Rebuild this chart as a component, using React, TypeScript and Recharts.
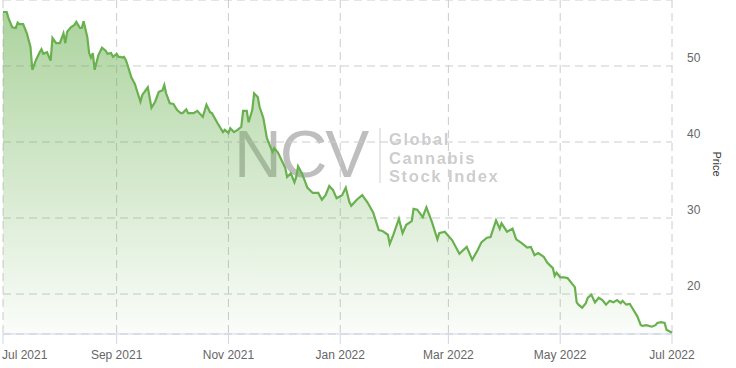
import { Area, AreaChart, CartesianGrid, Label, XAxis, YAxis } from "recharts";

// days since 1 Jul 2021
const dayOffsets = [
	0, 2, 3, 5, 7, 8, 9, 11, 13, 15, 16, 18, 20, 21, 22, 24, 26, 27, 29, 31, 33, 34, 35, 37, 39, 40, 42, 43, 44, 46, 47, 48,
	49, 50, 52, 54, 56, 57, 59, 60, 62, 63, 64, 65, 66, 67, 68, 70, 72, 73, 75, 76, 79, 81, 83, 85, 87, 88, 89, 91, 93, 95,
	97, 98, 100, 101, 104, 106, 109, 111, 113, 114, 117, 120, 121, 123, 124, 126, 128, 130, 131, 133, 134, 136, 137, 139,
	140, 142, 144, 146, 147, 148, 150, 152, 154, 155, 157, 159, 160, 161, 163, 165, 166, 169, 172, 174, 176, 178, 180, 182,
	185, 187, 189, 190, 193, 196, 199, 202, 205, 207, 210, 211, 213, 216, 218, 220, 223, 224, 226, 229, 231, 234, 237, 238,
	241, 245, 249, 253, 256, 259, 261, 264, 266, 269, 271, 272, 275, 278, 280, 283, 286, 288, 290, 292, 295, 297, 300, 301,
	302, 304, 306, 308, 311, 312, 313, 314, 316, 318, 319, 321, 323, 325, 327, 329, 331, 333, 335, 337, 338, 340, 342, 344,
	346, 348, 349, 351, 354, 356, 357, 359, 361, 362, 365,
];

const prices = [
	57.1, 57.1, 56.3, 55.1, 55.0, 55.7, 55.5, 55.5, 54.3, 52.5, 49.5, 50.8, 51.8, 52.2, 51.6, 51.8, 50.7, 53.7, 53.0, 53.0,
	54.3, 53.0, 54.5, 55.1, 55.4, 55.8, 55.0, 55.0, 55.9, 53.8, 51.7, 51.1, 51.7, 49.5, 51.4, 52.4, 52.0, 51.6, 51.7, 51.2,
	51.6, 51.2, 51.2, 51.1, 51.2, 50.8, 50.1, 48.5, 47.6, 46.8, 45.3, 46.2, 47.2, 44.5, 45.3, 46.6, 46.8, 47.5, 46.4, 45.1,
	45.0, 44.2, 43.8, 43.8, 44.3, 43.8, 43.8, 44.1, 43.3, 44.9, 43.9, 43.8, 42.5, 41.3, 41.6, 41.2, 41.8, 41.3, 41.6, 42.0,
	44.1, 44.1, 42.6, 44.2, 46.4, 45.9, 44.6, 43.2, 40.5, 39.3, 38.7, 39.2, 38.6, 37.6, 36.6, 35.4, 35.9, 34.7, 35.4, 36.8,
	35.9, 34.7, 34.0, 33.3, 33.3, 32.4, 33.0, 34.2, 33.7, 32.6, 33.0, 34.0, 32.1, 31.6, 32.4, 33.0, 32.0, 30.7, 28.4, 28.3,
	27.8, 26.6, 27.8, 29.9, 28.0, 29.1, 29.6, 31.2, 31.1, 30.1, 31.4, 29.5, 27.2, 28.0, 28.2, 27.1, 25.3, 26.2, 24.5, 25.8,
	26.8, 27.4, 27.5, 29.7, 28.6, 29.3, 28.2, 28.6, 27.2, 26.7, 26.1, 26.2, 25.1, 25.4, 24.9, 24.1, 23.4, 22.4, 22.8, 22.2,
	22.2, 22.1, 21.2, 20.9, 18.9, 18.6, 18.2, 18.8, 19.5, 19.9, 18.9, 19.5, 19.2, 18.6, 19.1, 18.9, 19.2, 18.8, 19.1, 18.6,
	18.7, 17.9, 17.1, 15.9, 15.8, 15.9, 15.7, 15.9, 16.2, 16.3, 16.2, 15.3, 14.9,
];

const monthTicks = [0, 62, 123, 184, 243, 304, 365];
const monthLabels = ["Jul 2021", "Sep 2021", "Nov 2021", "Jan 2022", "Mar 2022", "May 2022", "Jul 2022"];
const priceTicks = [20, 30, 40, 50];

const data = dayOffsets.map((day, i) => ({ day, price: prices[i] }));

const FONT = "'Liberation Sans', Arial, sans-serif";
const GREEN = "#69b04f";

function MonthTick({ x, y, payload, index }: any) {
	const first = index === 0;
	return (
		<text
			x={first ? x - 1 : x}
			y={y}
			dy={13}
			textAnchor={first ? "start" : "middle"}
			fill="#666666"
			fontSize={12}
			fontFamily={FONT}
		>
			{monthLabels[monthTicks.indexOf(payload.value)]}
		</text>
	);
}

function PriceTick({ x, y, payload }: any) {
	return (
		<text x={x} y={y - 8} dy="0.35em" textAnchor="start" fill="#666666" fontSize={12} fontFamily={FONT}>
			{payload.value}
		</text>
	);
}

function PriceLabel({ viewBox }: any) {
	const cx = viewBox.x + 45;
	const cy = viewBox.y + viewBox.height / 2 - 3;
	return (
		<text
			transform={`translate(${cx},${cy}) rotate(90)`}
			textAnchor="middle"
			dy="0.35em"
			fill="#333333"
			fontSize={11}
			fontFamily={FONT}
		>
			Price
		</text>
	);
}

const brandLines = ["Global", "Cannabis", "Stock Index"];

function Watermark() {
	return (
		<svg width={736} height={368} style={{ position: "absolute", left: 0, top: 0 }}>
			<text x={234} y={177} fontSize={66} letterSpacing={-2} fontFamily={FONT} fill="rgba(70,70,70,0.35)">
				NCV
			</text>
			<line x1={380} x2={380} y1={128} y2={183} stroke="#d0d0d0" strokeWidth={1} />
			<g fontSize={16.5} letterSpacing={1.6} fontWeight="bold" fontFamily={FONT} fill="rgba(80,80,80,0.3)">
				{brandLines.map((line, i) => (
					<text key={line} x={389} y={145 + i * 18.6}>
						{line}
					</text>
				))}
			</g>
		</svg>
	);
}

export default function App() {
	return (
		<div style={{ position: "absolute", left: 0, top: 0, width: 736, height: 368, background: "#fff" }}>
			<Watermark />
			<div style={{ position: "absolute", left: 0, top: 0 }}>
				<AreaChart width={736} height={368} data={data} margin={{ top: 0, right: 0, bottom: 0, left: 3 }}>
					<defs>
						<linearGradient id="priceFill" x1="0" y1="0" x2="0" y2="1">
							<stop offset="0%" stopColor={GREEN} stopOpacity={0.92} />
							<stop offset="100%" stopColor={GREEN} stopOpacity={0.05} />
						</linearGradient>
					</defs>
					<CartesianGrid stroke="#cccccc" strokeDasharray="8 5" />
					<XAxis
						dataKey="day"
						type="number"
						domain={[0, 365]}
						ticks={monthTicks}
						interval={0}
						height={34}
						stroke="#ccd6eb"
						tickLine={{ stroke: "#ccd6eb" }}
						tickSize={10}
						tickMargin={2}
						tick={<MonthTick />}
					/>
					<YAxis
						orientation="right"
						type="number"
						domain={[14.74, 58.68]}
						ticks={priceTicks}
						width={64}
						axisLine={false}
						tickLine={false}
						tickSize={0}
						tickMargin={15}
						tick={<PriceTick />}
					>
						<Label content={<PriceLabel />} />
					</YAxis>
					<Area
						type="linear"
						dataKey="price"
						stroke={GREEN}
						strokeWidth={2.2}
						fill="url(#priceFill)"
						baseValue="dataMin"
						isAnimationActive={false}
						dot={false}
						activeDot={false}
					/>
				</AreaChart>
			</div>
		</div>
	);
}
